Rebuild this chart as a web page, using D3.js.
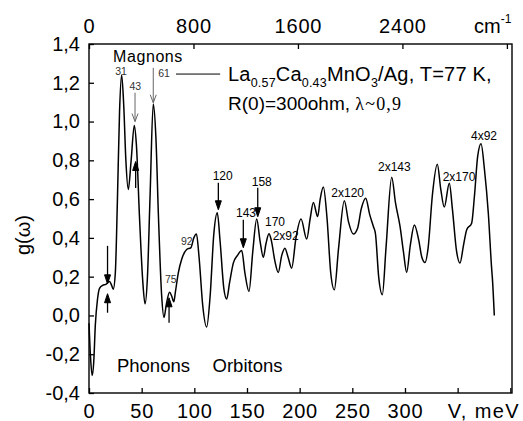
<!DOCTYPE html>
<html>
<head>
<meta charset="utf-8">
<script src="https://cdn.jsdelivr.net/npm/d3@7"></script>
<style>
  body { margin: 0; background: #fff; }
  svg { display: block; }
  text { font-family: 'Liberation Sans', Arial, sans-serif; fill: #000; }
</style>
</head>
<body>
<svg id="chart" width="523" height="421"></svg>
<script>
// g(omega) spectrum: bias V (meV) and g value
const energy = [
  0, 1.5, 3, 4.5, 6, 8, 10, 13, 16, 19.5, 21.5, 23, 25, 27, 29, 31, 33, 35, 37.3, 40,
  43, 45, 48, 51, 53.2, 55.5, 58, 61, 63.5, 66, 69, 71.2, 73.5, 76.5, 78.5, 80.5, 82, 84.8, 88, 92.7,
  96.8, 99.5, 102, 104.5, 108, 111.7, 115, 118.5, 121.8, 124.5, 128, 130.7, 133.5, 137, 141, 145, 148, 151.9, 155.5, 159.2,
  162.5, 165.5, 168, 170.9, 173, 176.5, 179.7, 183, 186, 189, 192.4, 196.5, 201.3, 206.7, 210, 213, 217.1, 219.5, 222.5, 226,
  229.5, 232.9, 237, 242.4, 246.5, 251, 255, 258.5, 262.7, 266.5, 270, 272, 275, 278.5, 282, 287.4, 291, 295.3, 298.5, 301.6,
  305, 308.9, 313, 316, 319, 322, 326, 330.7, 334, 337.3, 342.1, 345, 349, 352.2, 355.5, 358.6, 363.3, 366, 369, 372.2,
  375.5, 379.1, 382.3, 383, 384.8
]
const density = [
  -0.04, -0.22, -0.31, -0.24, -0.05, 0.08, 0.14, 0.155, 0.16, 0.175, 0.155, 0.135, 0.22, 0.6, 1.05, 1.24, 1.08, 0.8, 0.65, 0.8,
  0.98, 0.88, 0.5, 0.18, 0.06, 0.2, 0.62, 1.09, 0.92, 0.5, 0.1, -0.01, 0.06, 0.12, 0.1, 0.07, 0.12, 0.22, 0.29, 0.34,
  0.35, 0.4, 0.42, 0.3, 0.05, -0.06, 0.1, 0.42, 0.53, 0.38, 0.14, 0.085, 0.17, 0.27, 0.31, 0.335, 0.22, 0.124, 0.33, 0.497,
  0.38, 0.3, 0.37, 0.421, 0.39, 0.28, 0.222, 0.31, 0.347, 0.3, 0.244, 0.4, 0.497, 0.394, 0.5, 0.583, 0.51, 0.6, 0.662, 0.5,
  0.22, 0.132, 0.35, 0.591, 0.48, 0.42, 0.45, 0.55, 0.605, 0.52, 0.459, 0.42, 0.2, 0.107, 0.35, 0.713, 0.58, 0.459, 0.33, 0.222,
  0.36, 0.467, 0.39, 0.3, 0.273, 0.35, 0.62, 0.78, 0.65, 0.559, 0.682, 0.55, 0.33, 0.27, 0.36, 0.442, 0.476, 0.62, 0.82, 0.885,
  0.75, 0.528, 0.24, 0.19, 0.0
]

// axis ticks
const meVTicks = [0, 50, 100, 150, 200, 250, 300, 350, 400]
const meVLabelled = [0, 50, 100, 150, 200, 250, 300]
const cmTicks = [0, 800, 1600, 2400, 3200]
const cmLabelled = [0, 800, 1600, 2400]
const gTicks = [-0.4, -0.2, 0, 0.2, 0.4, 0.6, 0.8, 1.0, 1.2, 1.4]
const cmPerMeV = 8.0655

// peak labels, anchored in data units (meV, g)
const peakLabels = ['120', '143', '158', '170', '2x92', '2x120', '2x143', '2x170', '4x92']
const peakLabelV = [126.9, 149.1, 164, 176.6, 186.7, 245.6, 289.9, 351.3, 375]
const peakLabelG = [0.70, 0.506, 0.669, 0.463, 0.39, 0.612, 0.744, 0.695, 0.906]
const magnonLabels = ['31', '43', '61', '75', '92']
const magnonLabelV = [30.4, 44, 71.2, 77.6, 92.8]
const magnonLabelG = [1.239, 1.165, 1.231, 0.169, 0.362]

// arrows: position (meV), start and tip (g)
const arrowV = [17.6, 17.6, 44.3, 76, 122.8, 146.5, 160.2]
const arrowFrom = [0.359, 0.014, 0.657, -0.038, 0.684, 0.494, 0.659]
const arrowTo = [0.163, 0.112, 0.794, 0.091, 0.545, 0.349, 0.509]
const greyArrowV = [43.7, 61]
const greyArrowFrom = [1.149, 1.277]
const greyArrowTo = [1.0, 1.097]

const width = 523
const height = 421
const margin = { top: 44, right: 11, bottom: 28, left: 89 }
const plotW = width - margin.left - margin.right
const plotH = height - margin.top - margin.bottom

const svg = d3.select('#chart')

svg.append('rect')
  .attr('width', width)
  .attr('height', height)
  .attr('fill', '#fff')

const x = d3.scaleLinear().domain([0, 401.6]).range([margin.left, margin.left + plotW])
const xTop = d3.scaleLinear().domain([0, 401.6 * cmPerMeV]).range([margin.left, margin.left + plotW])
const y = d3.scaleLinear().domain([-0.4, 1.4]).range([margin.top + plotH, margin.top])

const comma = d3.formatLocale({ decimal: ',', thousands: '.', grouping: [3], currency: ['', ''], minus: '-' }).format('.1f')

// axes, ticks pointing inwards
const bottomAxis = svg.append('g')
  .attr('transform', `translate(0,${margin.top + plotH})`)
  .call(d3.axisBottom(x).tickValues(meVTicks).tickSizeInner(-5).tickSizeOuter(0).tickPadding(11)
    .tickFormat((d) => meVLabelled.includes(d) ? d : ''))

const topAxis = svg.append('g')
  .attr('transform', `translate(0,${margin.top})`)
  .call(d3.axisTop(xTop).tickValues(cmTicks).tickSizeInner(-5).tickSizeOuter(0).tickPadding(11)
    .tickFormat((d) => cmLabelled.includes(d) ? d : ''))

const leftAxis = svg.append('g')
  .attr('transform', `translate(${margin.left},0)`)
  .call(d3.axisLeft(y).tickValues(gTicks).tickSizeInner(-5).tickSizeOuter(0).tickPadding(9)
    .tickFormat(comma))

;[bottomAxis, topAxis, leftAxis].forEach((a) => {
  a.select('.domain').remove()
  a.selectAll('.tick line').attr('stroke', '#000').attr('stroke-width', 1.3)
  a.selectAll('.tick text')
    .attr('font-family', "'Liberation Sans', Arial, sans-serif")
    .attr('font-size', 20)
    .attr('fill', '#000')
})
bottomAxis.selectAll('.tick text').attr('letter-spacing', 0.8)
topAxis.selectAll('.tick text').attr('letter-spacing', 0.8)

// frame
svg.append('rect')
  .attr('x', margin.left)
  .attr('y', margin.top)
  .attr('width', plotW)
  .attr('height', plotH)
  .attr('fill', 'none')
  .attr('stroke', '#000')
  .attr('stroke-width', 1.4)

// the curve
const line = d3.line()
  .x((d) => x(d[0]))
  .y((d) => y(d[1]))
  .curve(d3.curveMonotoneX)

svg.append('path')
  .datum(energy.map((v, i) => [v, density[i]]))
  .attr('d', line)
  .attr('fill', 'none')
  .attr('stroke', '#000')
  .attr('stroke-width', 1.5)
  .attr('stroke-linejoin', 'round')

// arrows
function arrow(v, g0, g1, color, filled) {
  const px = x(v)
  const y0 = y(g0)
  const y1 = y(g1)
  const dir = y1 > y0 ? 1 : -1
  const headLen = filled ? 9 : 8
  svg.append('line')
    .attr('x1', px).attr('x2', px)
    .attr('y1', y0).attr('y2', y1 - dir * (filled ? headLen - 1 : 0))
    .attr('stroke', color)
    .attr('stroke-width', filled ? 1.3 : 1)
  const head = `M${px - 3},${y1 - dir * headLen} L${px},${y1} L${px + 3},${y1 - dir * headLen}`
  svg.append('path')
    .attr('d', filled ? head + 'Z' : head)
    .attr('fill', filled ? color : 'none')
    .attr('stroke', color)
    .attr('stroke-width', 1)
}
arrowV.forEach((v, i) => arrow(v, arrowFrom[i], arrowTo[i], '#000', true))
greyArrowV.forEach((v, i) => arrow(v, greyArrowFrom[i], greyArrowTo[i], '#666', false))

// peak labels
svg.append('g')
  .selectAll('text')
  .data(peakLabels)
  .join('text')
  .attr('x', (d, i) => x(peakLabelV[i]))
  .attr('y', (d, i) => y(peakLabelG[i]))
  .attr('text-anchor', 'middle')
  .attr('font-size', 12)
  .text((d) => d)

svg.append('g')
  .selectAll('text')
  .data(magnonLabels)
  .join('text')
  .attr('x', (d, i) => x(magnonLabelV[i]))
  .attr('y', (d, i) => y(magnonLabelG[i]))
  .attr('text-anchor', 'middle')
  .attr('font-size', 10.5)
  .style('fill', '#333')
  .text((d) => d)

// region labels
svg.append('text')
  .attr('x', x(56)).attr('y', y(1.309))
  .attr('text-anchor', 'middle')
  .attr('font-size', 16)
  .attr('letter-spacing', 0.6)
  .text('Magnons')
svg.append('text')
  .attr('x', x(61.2)).attr('y', y(-0.29))
  .attr('text-anchor', 'middle')
  .attr('font-size', 18.5)
  .text('Phonons')
svg.append('text')
  .attr('x', x(150.5)).attr('y', y(-0.29))
  .attr('text-anchor', 'middle')
  .attr('font-size', 18.5)
  .text('Orbitons')

// sample legend with connector from the 61 label
svg.append('line')
  .attr('x1', x(82.6)).attr('x2', x(124.5))
  .attr('y1', y(1.245)).attr('y2', y(1.245))
  .attr('stroke', '#000')
  .attr('stroke-width', 1)

const title = svg.append('text')
  .attr('x', x(132)).attr('y', y(1.21))
  .attr('font-size', 20)
  .attr('letter-spacing', 0.2)
title.append('tspan').text('La')
title.append('tspan').attr('font-size', 12.5).attr('dy', 6).text('0.57')
title.append('tspan').attr('dy', -6).text('Ca')
title.append('tspan').attr('font-size', 12.5).attr('dy', 6).text('0.43')
title.append('tspan').attr('dy', -6).text('MnO')
title.append('tspan').attr('font-size', 12.5).attr('dy', 6).text('3')
title.append('tspan').attr('dy', -6).text('/Ag, T=77 K,')

const subtitle = svg.append('text')
  .attr('x', x(132)).attr('y', y(1.06))
  .attr('font-size', 19)
subtitle.append('tspan').text('R(0)=300ohm, ')
subtitle.append('tspan')
  .attr('font-family', "'Liberation Serif', 'Times New Roman', serif")
  .attr('font-size', 18)
  .attr('letter-spacing', 1.2)
  .text('λ~0,9')

// axis titles
svg.append('text')
  .attr('x', 520).attr('y', 418)
  .attr('text-anchor', 'end')
  .attr('font-size', 20)
  .attr('letter-spacing', 1.4)
  .text('V, meV')

const cm = svg.append('text')
  .attr('x', 474).attr('y', 33)
  .attr('font-size', 20)
cm.append('tspan').text('cm')
cm.append('tspan').attr('font-size', 12).attr('dy', -10).text('-1')

svg.append('text')
  .attr('transform', 'translate(30,235) rotate(-90)')
  .attr('text-anchor', 'middle')
  .attr('font-size', 20)
  .text('g(ω)')
</script>
</body>
</html>
